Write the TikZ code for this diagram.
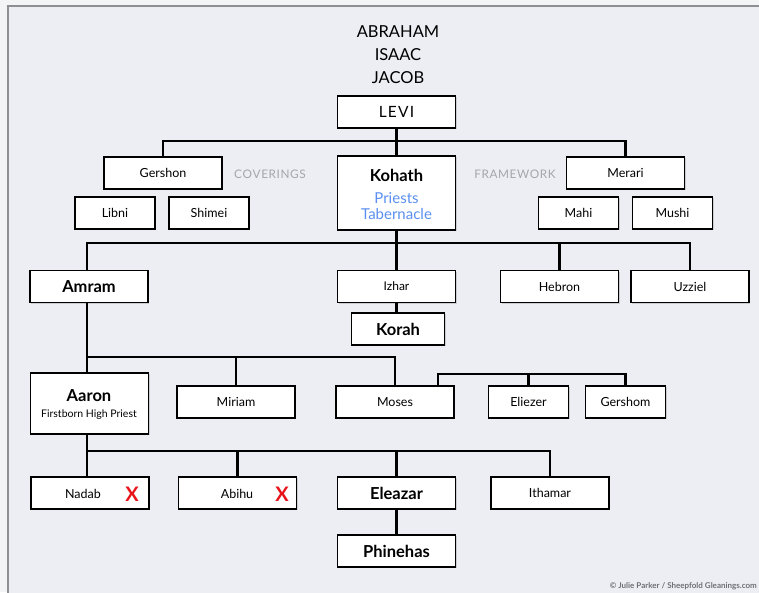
\documentclass[tikz,border=0pt]{standalone}
\usepackage{fontspec}
\setmainfont{Lato}
\usetikzlibrary{shadows}
\definecolor{outerbg}{HTML}{F3F4F6}
\definecolor{panelbg}{HTML}{ECEEF3}
\definecolor{panelrule}{HTML}{8E8F92}
\definecolor{tagtxt}{HTML}{A4A6AA}
\definecolor{bluetxt}{HTML}{5B8FF0}
\definecolor{xred}{HTML}{E8141B}
\definecolor{credit}{HTML}{6F7074}
\tikzset{
  box/.style={draw=black, line width=1.3pt, fill=white, inner sep=0pt,
    minimum width=118pt, minimum height=32pt, font=\fontsize{12.5}{14}\selectfont,
    drop shadow={opacity=0.3, shadow xshift=1.3pt, shadow yshift=-1.3pt}},
  smallbox/.style={box, minimum width=80pt},
  namebox/.style={box, font=\bfseries\fontsize{16.5}{18}\selectfont},
  conn/.style={draw=black, line width=2.5pt, line cap=rect},
  title/.style={font=\fontsize{16.5}{18}\selectfont, inner sep=0pt},
  tag/.style={text=tagtxt, font=\fontsize{11.8}{13}\selectfont, inner sep=0pt},
  label/.style={inner sep=0pt},
  xmark/.style={text=xred, font=\bfseries\fontsize{20}{22}\selectfont, inner sep=0pt}
}
\begin{document}
\begin{tikzpicture}[x=1pt, y=-1pt]
\useasboundingbox (0,0) rectangle (759,592);
\fill[outerbg] (0,0) rectangle (759,592);
\fill[panelbg] (8,6) rectangle (770,600);
\draw[panelrule, line width=1.8pt] (8,600) -- (8,6) -- (770,6);

% titles
\node[title] (abraham) at (398,32) {ABRAHAM};
\node[title] (isaac) at (398,55) {ISAAC};
\node[title] (jacob) at (398,78) {JACOB};

% bus lines
\coordinate (b1) at (0,141);
\coordinate (b2) at (0,243);
\coordinate (b3) at (0,357);
\coordinate (b4) at (0,374);
\coordinate (b5) at (0,451);
\coordinate (sp) at (87,0);

% generation Levi
\node[box, font=\fontsize{15.5}{17}\selectfont] (levi) at (396.5,112) {L\kern1.2pt E\kern1.2pt V\kern1.2pt I};
\node[box] (gershon) at (163,173) {Gershon};
\node[smallbox] (libni) at (115,213) {Libni};
\node[smallbox] (shimei) at (209,213) {Shimei};
\node[tag] (coverings) at (270,174) {C\kern0.6pt O\kern0.6pt V\kern0.6pt E\kern0.6pt R\kern0.6pt I\kern0.6pt N\kern0.6pt G\kern0.6pt S};
\node[box, minimum height=74pt] (kohath) at (396.5,193) {};
\node[label, font=\bfseries\fontsize{16.5}{18}\selectfont] (kohathtxt) at (396.5,175) {Kohath};
\node[label, text=bluetxt, font=\fontsize{15}{17}\selectfont] (priests) at (396.5,198) {Priests};
\node[label, text=bluetxt, font=\fontsize{15}{17}\selectfont] (tabernacle) at (396.5,214) {Tabernacle};
\node[tag] (framework) at (515,174) {F\kern0.6pt R\kern0.6pt A\kern0.6pt M\kern0.6pt E\kern0.6pt W\kern0.6pt O\kern0.6pt R\kern0.6pt K};
\node[box] (merari) at (625.5,173) {Merari};
\node[smallbox] (mahi) at (578.5,213) {Mahi};
\node[smallbox] (mushi) at (672.5,213) {Mushi};

% generation Kohath
\node[namebox] (amram) at (89,286.5) {Amram};
\node[box, font=\fontsize{12}{13}\selectfont] (izhar) at (396.5,286.5) {Izhar};
\node[namebox, minimum width=93pt] (korah) at (398,329) {Korah};
\node[box] (hebron) at (559.5,286.5) {Hebron};
\node[box] (uzziel) at (690,286.5) {Uzziel};

% generation Amram
\node[box, minimum height=61pt] (aaron) at (89.5,403.5) {};
\node[label, font=\bfseries\fontsize{16.5}{18}\selectfont] (aarontxt) at (89,396) {Aaron};
\node[label, font=\fontsize{10.5}{12}\selectfont] (aaronsub) at (89,415) {Firstborn High Priest};
\node[box] (miriam) at (236,402) {Miriam};
\node[box] (moses) at (395,402) {Moses};
\node[smallbox] (eliezer) at (528.5,402) {Eliezer};
\node[smallbox] (gershom) at (625.5,402) {Gershom};

% generation Aaron
\node[box] (nadab) at (90,493) {};
\node[label, font=\fontsize{12.5}{14}\selectfont] (nadabtxt) at (83,494) {Nadab};
\node[xmark] (nadabx) at (132,494) {X};
\node[box] (abihu) at (237.5,493) {};
\node[label, font=\fontsize{12.5}{14}\selectfont] (abihutxt) at (237,494) {Abihu};
\node[xmark] (abihux) at (282,494) {X};
\node[namebox] (eleazar) at (396.5,493) {Eleazar};
\node[box] (ithamar) at (550,493) {Ithamar};
\node[namebox] (phinehas) at (396.5,551) {Phinehas};

% connectors
\draw[conn] (levi.south) -- (kohath.north);
\draw[conn] (gershon.north) |- (merari.north |- b1) -- (merari.north);

\draw[conn] (kohath.south) -- (kohath.south |- b2);
\draw[conn] (amram.north -| sp) |- (uzziel.north |- b2) -- (uzziel.north);
\draw[conn] (izhar.north) -- (izhar.north |- b2);
\draw[conn] (hebron.north) -- (hebron.north |- b2);
\draw[conn] (izhar.south) -- (izhar.south |- korah.north);

\draw[conn] (amram.south -| sp) -- (aaron.north -| sp);
\draw[conn] (b3 -| sp) -- (moses.north |- b3) -- (moses.north);
\draw[conn] (miriam.north) -- (miriam.north |- b3);
\draw[conn] ([xshift=43pt]moses.north) |- (gershom.north |- b4) -- (gershom.north);
\draw[conn] (eliezer.north) -- (eliezer.north |- b4);

\draw[conn] (aaron.south -| sp) -- (nadab.north -| sp);
\draw[conn] (b5 -| sp) -- (ithamar.north |- b5) -- (ithamar.north);
\draw[conn] (abihu.north) -- (abihu.north |- b5);
\draw[conn] (eleazar.north) -- (eleazar.north |- b5);
\draw[conn] (eleazar.south) -- (phinehas.north);

% credit
\node[anchor=east, inner sep=0pt, text=credit, font=\bfseries\fontsize{8}{10}\selectfont] (credit) at (757,586) {© Julie Parker / Sheepfold Gleanings.com};
\end{tikzpicture}
\end{document}
